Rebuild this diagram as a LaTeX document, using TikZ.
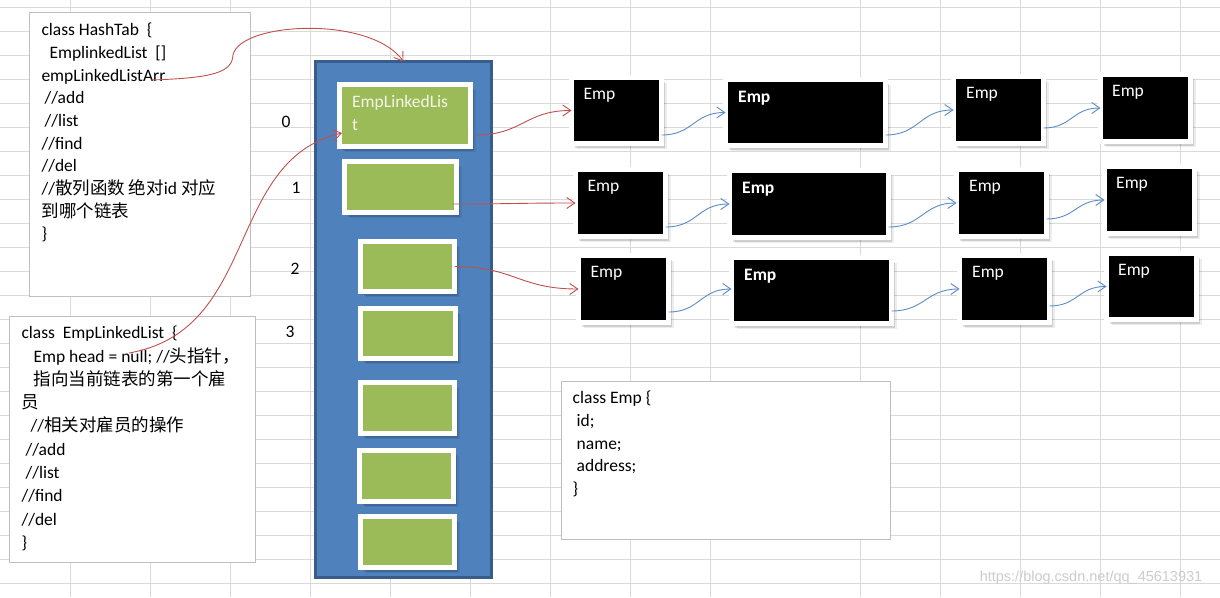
\documentclass[tikz,border=0pt]{standalone}
\usepackage{fontspec}
\setmainfont{Carlito}
\newfontfamily\cjk{Noto Sans CJK SC}
\newfontfamily\wmfont{Liberation Sans}
\usetikzlibrary{arrows.meta,shadows,calc}
\definecolor{gridc}{HTML}{D9D9D9}
\definecolor{boxgray}{HTML}{BFBFBF}
\definecolor{colblue}{HTML}{4F81BD}
\definecolor{colborder}{HTML}{385D8A}
\definecolor{boxgreen}{HTML}{9BBB59}
\definecolor{linkred}{HTML}{C0504D}
\definecolor{linkblue}{HTML}{5B8BC8}
\definecolor{greentext}{HTML}{F6F6E8}
\begin{document}
\begin{tikzpicture}[x=1pt,y=-1pt,
  codebox/.style={draw=boxgray, fill=white, line width=1pt, inner sep=0pt},
  codetext/.style={anchor=north west, inner sep=0pt, align=left, font=\fontsize{17.5}{22.7}\selectfont},
  codetextb/.style={codetext, font=\fontsize{17.5}{23.3}\selectfont},
  numtext/.style={inner sep=0pt, font=\fontsize{17.5}{21}\selectfont},
  shadowed/.style={
    drop shadow={shadow xshift=5pt, shadow yshift=-5.5pt, opacity=0.07, fill=black},
    drop shadow={shadow xshift=3.8pt, shadow yshift=-4.2pt, opacity=0.13, fill=black}},
  empbox/.style={draw=white, fill=black, line width=5pt, outer sep=0pt, inner sep=0pt, shadowed},
  greenbox/.style={draw=white, fill=boxgreen, line width=5pt, outer sep=0pt, inner sep=0pt, shadowed},
  colbox/.style={draw=colborder, fill=colblue, line width=3pt, outer sep=0pt, inner sep=0pt},
  emplabel/.style={anchor=north west, inner sep=0pt, text=white, font=\fontsize{17.5}{21}\selectfont},
  emplabelb/.style={emplabel, font=\fontsize{17.5}{21}\selectfont\bfseries},
  greenlabel/.style={anchor=north west, inner sep=0pt, align=left, text=greentext, font=\fontsize{17.5}{23}\selectfont},
  redlink/.style={draw=linkred, line width=0.9pt, -{Straight Barb[length=8pt,width=11pt]}},
  bluelink/.style={draw=linkblue, line width=0.9pt, -{Straight Barb[length=8pt,width=11pt]}},
  sbend/.style={out=0, in=180, looseness=1.2},
]
\fill[white] (0,0) rectangle (1220,597);
\useasboundingbox (0,0) rectangle (1220,597);

% spreadsheet grid
\foreach \yy in {7,31,55,79,103,127,151,175,199,223,247,271,295,319,343,367,391,415,439,463,487,511,535,559,583}
  \draw[gridc, line width=1pt] (0,\yy) -- (1220,\yy);
\foreach \xx in {70,150,230,310,390,470,550,630,710,860,940,1020,1100,1180}
  \draw[gridc, line width=1pt] (\xx,0) -- (\xx,597);

% code boxes
\node[codebox, minimum width=221pt, minimum height=284pt] (hashbox) at (140,154.5) {};
\node[codetext] (hashtext) at (41.3,19.6) {\strut class HashTab\ \ \{\\
\hspace*{8pt}EmplinkedList\ \ []\\
empLinkedListArr\\
\hspace*{3pt}//add\\
\hspace*{3pt}//list\\
//find\\
//del\\
//{\cjk 散列函数} {\cjk 绝对}id {\cjk 对应}\\
{\cjk 到哪个链表}\\
\}};

\node[codebox, minimum width=246pt, minimum height=246pt] (ellbox) at (132.5,439.5) {};
\node[codetextb] (elltext) at (21.3,322.2) {\strut class\ \ EmpLinkedList\ \ \{\\
\hspace*{12pt}Emp head = null; //{\cjk 头指针，}\\
\hspace*{12pt}{\cjk 指向当前链表的第一个雇}\\
{\cjk 员}\\
\hspace*{9pt}//{\cjk 相关对雇员的操作}\\
\hspace*{4pt}//add\\
\hspace*{4pt}//list\\
//find\\
//del\\
\}};

\node[codebox, minimum width=329pt, minimum height=158pt] (empclassbox) at (725.5,460) {};
\node[codetext] (empclasstext) at (572.5,387.6) {\strut class Emp \{\\
\hspace*{4pt}id;\\
\hspace*{4pt}name;\\
\hspace*{4pt}address;\\
\}};

% index numbers
\node[numtext] (n0) at (286,122) {0};
\node[numtext] (n1) at (296,188) {1};
\node[numtext] (n2) at (295,269) {2};
\node[numtext] (n3) at (290,332) {3};

% hash table column
\node[colbox, minimum width=176pt, minimum height=516pt] (col) at (403.5,319.5) {};
\node[greenbox, minimum width=131pt, minimum height=62pt] (g0) at (405,115.5) {};
\node[greenbox, minimum width=112pt, minimum height=51pt] (g1) at (400.5,187) {};
\node[greenbox, minimum width=94pt, minimum height=50pt] (g2) at (407.5,266.5) {};
\node[greenbox, minimum width=95pt, minimum height=50pt] (g3) at (408,333.5) {};
\node[greenbox, minimum width=94pt, minimum height=51pt] (g4) at (407.5,408) {};
\node[greenbox, minimum width=94pt, minimum height=51pt] (g5) at (406.5,476) {};
\node[greenbox, minimum width=94pt, minimum height=51pt] (g6) at (407.5,542) {};
\node[greenlabel] (g0text) at ([xshift=12.5pt,yshift=-11pt]g0.north west) {EmpLinkedLis\\t};

% Emp nodes
\node[empbox, minimum width=90pt, minimum height=66pt] (e00) at (616.5,110.5) {};
\node[empbox, minimum width=160pt, minimum height=66pt] (e01) at (805.5,112.5) {};
\node[empbox, minimum width=90pt, minimum height=67pt] (e02) at (998.5,110) {};
\node[empbox, minimum width=90pt, minimum height=67pt] (e03) at (1145.5,108) {};
\node[empbox, minimum width=90pt, minimum height=67pt] (e10) at (620.5,203) {};
\node[empbox, minimum width=159pt, minimum height=67pt] (e11) at (809,204) {};
\node[empbox, minimum width=90pt, minimum height=67pt] (e12) at (1001.5,203) {};
\node[empbox, minimum width=90pt, minimum height=67pt] (e13) at (1149.5,200) {};
\node[empbox, minimum width=90pt, minimum height=67pt] (e20) at (623.5,289) {};
\node[empbox, minimum width=160pt, minimum height=66pt] (e21) at (811.5,290.5) {};
\node[empbox, minimum width=90pt, minimum height=67pt] (e22) at (1004.5,289) {};
\node[empbox, minimum width=90pt, minimum height=66pt] (e23) at (1151.5,286.5) {};

\foreach \r in {0,1,2} {
  \node[emplabel] (t\r0) at ([xshift=12pt,yshift=-10.5pt]e\r0.north west) {Emp};
  \node[emplabelb] (t\r1) at ([xshift=12.5pt,yshift=-11.5pt]e\r1.north west) {Emp};
  \node[emplabel] (t\r2) at ([xshift=12.5pt,yshift=-10.5pt]e\r2.north west) {Emp};
  \node[emplabel] (t\r3) at ([xshift=11.5pt,yshift=-11pt]e\r3.north west) {Emp};
}

% red connectors
\coordinate (arrStart) at (151,80);
\coordinate (nullStart) at (129,353);
\draw[redlink] (arrStart) .. controls (215,78) and (232,72) .. (233,55)
  .. controls (240,22) and (370,15) .. (col.north);
\draw[redlink] (nullStart) .. controls (260,330) and (225,160) .. ([xshift=2.5pt,yshift=-17.5pt]g0.west);
\draw[redlink] ([xshift=5.5pt,yshift=-19.5pt]g0.east) to[sbend] (e00.west);
\draw[redlink] ([xshift=-4pt,yshift=-17pt]g1.east) to[sbend] (e10.west);
\draw[redlink] (g2.east) to[sbend] (e20.west);

% blue connectors
\draw[bluelink] ([yshift=-24.5pt]e00.east) to[sbend] (e01.west);
\draw[bluelink] ([yshift=-22.5pt]e01.east) to[sbend] (e02.west);
\draw[bluelink] ([yshift=-18pt]e02.east) to[sbend] (e03.west);
\draw[bluelink] ([yshift=-24pt]e10.east) to[sbend] (e11.west);
\draw[bluelink] ([yshift=-23pt]e11.east) to[sbend] (e12.west);
\draw[bluelink] ([yshift=-16pt]e12.east) to[sbend] (e13.west);
\draw[bluelink] ([yshift=-23pt]e20.east) to[sbend] ([yshift=1.5pt]e21.west);
\draw[bluelink] ([yshift=-20.5pt]e21.east) to[sbend] (e22.west);
\draw[bluelink] ([yshift=-17pt]e22.east) to[sbend] (e23.west);

% watermark
\node[inner sep=0pt, text=black!20, font=\wmfont\fontsize{14.5}{17}\selectfont] (wm) at (1091,578) {https://blog.csdn.net/qq\_45613931};
\end{tikzpicture}
\end{document}
